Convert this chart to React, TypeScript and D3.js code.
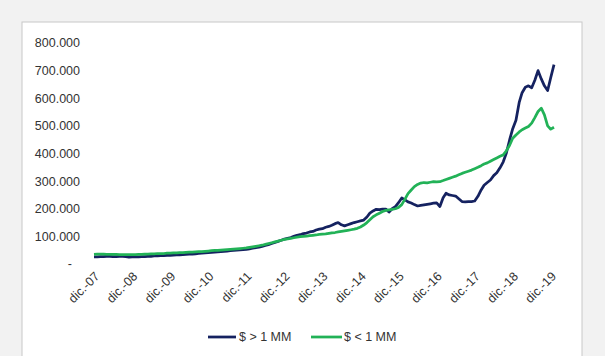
import * as d3 from 'd3';

// monthly series, dic-07 .. ene-20 (values in $)
const startMonth = new Date(2007, 11, 1);

const mayorUnMM = [
  26,
  26, 27, 27, 28, 28, 27, 27, 28, 28, 27, 25, 26,
  26, 26, 27, 27, 28, 28, 29, 29, 30, 30, 31, 31,
  32, 33, 33, 34, 35, 36, 36, 37, 38, 39, 40, 41,
  42, 43, 44, 45, 46, 47, 48, 49, 50, 51, 52, 53,
  55, 57, 59, 61, 64, 67, 70, 74, 78, 82, 86, 90,
  93, 96, 100, 104, 106, 110, 112, 116, 118, 123, 126, 128,
  133, 136, 140, 146, 150, 142, 138, 142, 146, 150, 153, 156,
  159, 170, 184, 192, 198, 197, 199, 199, 188, 200, 208, 222,
  239, 232, 225, 221, 215, 210, 212, 214, 216, 218, 220, 221,
  208, 240, 256, 250, 248, 246, 236, 226, 225, 226, 226, 228,
  245, 268, 285, 295, 304, 320, 330, 348, 370, 402, 449, 490,
  520, 585, 620, 640, 645, 638, 665, 700, 670, 645, 628, 675,
  722,
].map((v) => v * 1000);

const menorUnMM = [
  35,
  36, 36, 36, 35, 35, 35, 35, 34, 34, 34, 34, 34,
  34, 35, 35, 36, 36, 37, 37, 38, 38, 38, 39, 39,
  40, 40, 41, 41, 42, 43, 43, 44, 45, 45, 46, 47,
  48, 49, 49, 50, 51, 52, 53, 54, 55, 56, 57, 58,
  60, 62, 64, 66, 68, 71, 74, 77, 80, 83, 86, 89,
  91, 93, 95, 97, 99, 100, 101, 103, 104, 105, 107, 108,
  109, 111, 113, 114, 116, 118, 120, 122, 124, 126, 129, 134,
  141, 150, 160, 171, 178, 184, 190, 194, 196, 198, 200, 205,
  215, 235, 255, 268, 280, 288, 293, 295, 294, 296, 298, 297,
  298, 302, 306, 310, 314, 318, 323, 328, 332, 336, 340, 345,
  350, 356, 362, 366, 372, 378, 384, 390, 395, 410, 430, 455,
  467, 478, 486, 492, 498, 510, 530, 552, 564, 540, 500, 488,
  495,
].map((v) => v * 1000);

const yTicks = [0, 100000, 200000, 300000, 400000, 500000, 600000, 700000, 800000];
const xTickLabels = [
  'dic.-07', 'dic.-08', 'dic.-09', 'dic.-10', 'dic.-11', 'dic.-12', 'dic.-13',
  'dic.-14', 'dic.-15', 'dic.-16', 'dic.-17', 'dic.-18', 'dic.-19',
];

const seriesNames = ['$ > 1 MM', '$ < 1 MM'];
const seriesColors = ['#152260', '#22b257'];

const W = 605;
const H = 356;
const FONT = '"Liberation Sans", Arial, sans-serif';
const TEXT = '#333333';

const fmt = (v: number) => (v === 0 ? '-' : d3.format(',.0f')(v / 1000).replace(',', '.') + '.000');

export default function App() {
  const months = mayorUnMM.map((_, i) => d3.timeMonth.offset(startMonth, i));

  const x = d3
    .scaleTime()
    .domain([months[0], months[months.length - 1]])
    .range([94, 554]);
  const y = d3.scaleLinear().domain([0, 800000]).range([264, 43]);

  const line = d3
    .line<number>()
    .x((_, i) => x(months[i]))
    .y((d) => y(d))
    .curve(d3.curveLinear);

  const tickDates = xTickLabels.map((_, i) => d3.timeMonth.offset(startMonth, i * 12));
  const series = [mayorUnMM, menorUnMM];

  return (
    <div style={{ position: 'fixed', left: 0, top: 0 }}>
      <svg width={W} height={H} style={{ display: 'block' }}>
        <rect x={0} y={0} width={W} height={H} fill="#f2f2f2" />
        <rect x={22} y={22} width={560} height={H} fill="#ffffff" stroke="#c8c8c8" strokeWidth={1} />

        {yTicks.map((t) => (
          <text
            key={t}
            x={t === 0 ? 72 : 80}
            y={y(t)}
            dy="0.35em"
            textAnchor="end"
            fontFamily={FONT}
            fontSize={12.5}
            fill={TEXT}
          >
            {fmt(t)}
          </text>
        ))}

        {tickDates.map((d, i) => (
          <text
            key={xTickLabels[i]}
            transform={`translate(${x(d) + 3},${274}) rotate(-45)`}
            dy="0.35em"
            textAnchor="end"
            fontFamily={FONT}
            fontSize={12.5}
            fill={TEXT}
          >
            {xTickLabels[i]}
          </text>
        ))}

        {series.map((s, i) => (
          <path
            key={seriesNames[i]}
            d={line(s) ?? ''}
            fill="none"
            stroke={seriesColors[i]}
            strokeWidth={2.75}
            strokeLinejoin="round"
          />
        ))}

        <g fontFamily={FONT} fontSize={12.5} fill={TEXT}>
          <line x1={208} x2={236} y1={337} y2={337} stroke={seriesColors[0]} strokeWidth={2.75} />
          <text x={239} y={337} dy="0.35em">
            {seriesNames[0]}
          </text>
          <line x1={311} x2={342} y1={337} y2={337} stroke={seriesColors[1]} strokeWidth={2.75} />
          <text x={344} y={337} dy="0.35em">
            {seriesNames[1]}
          </text>
        </g>
      </svg>
    </div>
  );
}
